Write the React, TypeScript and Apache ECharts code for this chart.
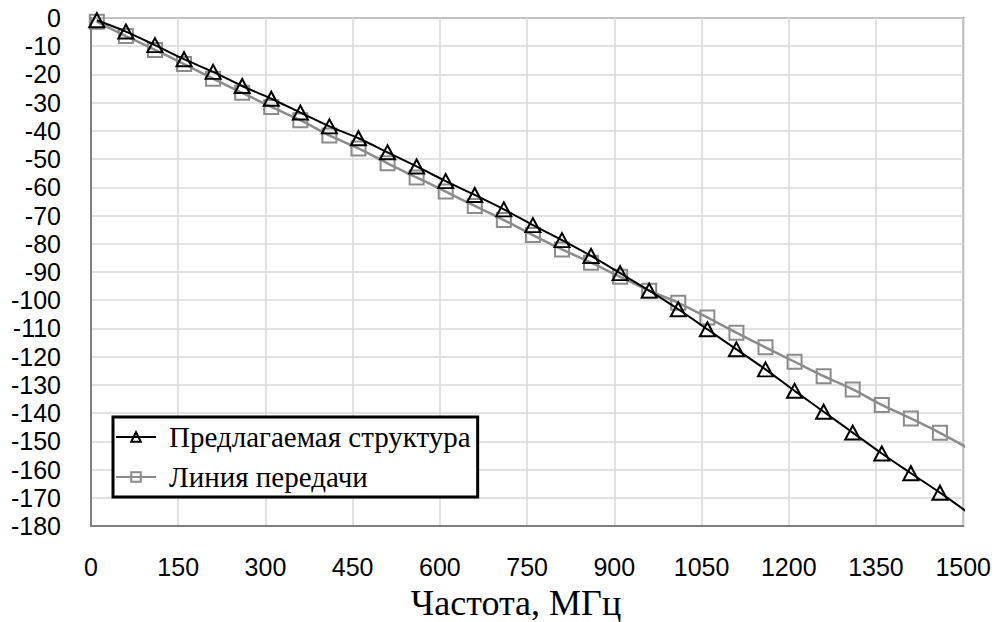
import React, { useEffect, useRef } from "react";
import * as echarts from "echarts";

const freqs = [10, 60, 110, 160, 210, 260, 310, 360, 410, 460, 510, 560, 610, 660, 710, 760, 810, 860, 910, 960, 1010, 1060, 1110, 1160, 1210, 1260, 1310, 1360, 1410, 1460, 1510];

const proposed = [-0.8, -4.8, -9.6, -14.6, -19.1, -24.1, -28.6, -33.5, -38.4, -42.6, -47.6, -52.6, -57.8, -62.7, -67.8, -73.4, -78.7, -84.3, -90.4, -96.6, -103.2, -110.3, -117.4, -124.5, -132.1, -139.5, -146.9, -154.3, -161.3, -168.2, -175.5];

const tline = [-1.3, -6.4, -11.3, -16.3, -21.5, -26.5, -31.5, -36.2, -41.6, -46.2, -51.5, -56.5, -61.5, -66.6, -71.6, -76.9, -82.0, -86.7, -91.7, -96.6, -100.9, -106.1, -111.5, -116.7, -121.8, -126.9, -131.6, -137.1, -141.9, -147.0, -152.6];

const seriesNames = ["Предлагаемая структура", "Линия передачи"];
const xTitle = "Частота, МГц";

const SANS = "'Liberation Sans', Arial, sans-serif";
const SERIF = "'Liberation Serif', 'Times New Roman', serif";

export default function App() {
  const ref = useRef<HTMLDivElement>(null);
  useEffect(() => {
    if (!ref.current) return;
    const chart = echarts.init(ref.current, null, { renderer: "svg" });
    chart.setOption({
      animation: false,
      backgroundColor: "#ffffff",
      grid: {
        left: 91,
        right: 30,
        top: 18,
        bottom: 96,
        show: true,
        borderColor: "#7f7f7f",
        borderWidth: 2,
      },
      xAxis: {
        type: "value",
        min: 0,
        max: 1500,
        interval: 150,
        axisLine: { show: true, onZero: false, lineStyle: { color: "#7f7f7f", width: 2 } },
        axisTick: { show: false },
        splitLine: { show: true, lineStyle: { color: "#d9d9d9", width: 1.5 } },
        axisLabel: {
          color: "#000",
          fontFamily: SANS,
          fontSize: 25,
          margin: 28,
          formatter: (v: number) => String(v),
        },
      },
      yAxis: {
        type: "value",
        min: -180,
        max: 0,
        interval: 10,
        axisLine: { show: true, lineStyle: { color: "#7f7f7f", width: 2 } },
        axisTick: { show: false },
        splitLine: { show: true, lineStyle: { color: "#d9d9d9", width: 1.5 } },
        axisLabel: {
          color: "#000",
          fontFamily: SANS,
          fontSize: 25,
          margin: 30,
          formatter: (v: number) => String(v),
        },
      },
      legend: {
        orient: "vertical",
        left: 113,
        top: 417,
        backgroundColor: "#fff",
        borderColor: "#000",
        borderWidth: 3,
        borderRadius: 0,
        padding: [5, 7, 5, 2],
        itemWidth: 40,
        itemHeight: 12,
        itemGap: 10,
        textStyle: { fontFamily: SERIF, fontSize: 29, lineHeight: 30, color: "#000", padding: [0, 0, 0, 8] },
        data: seriesNames,
      },
      graphic: [
        {
          type: "text",
          x: 516,
          y: 603,
          style: {
            text: xTitle,
            fontFamily: SERIF,
            fontSize: 36,
            fill: "#000",
            textAlign: "center",
            textVerticalAlign: "middle",
          },
        },
      ],
      series: [
        {
          name: seriesNames[1],
          type: "line",
          data: freqs.map((f, i) => [f, tline[i]]),
          smooth: 0.3,
          symbol: "rect",
          symbolSize: 14,
          lineStyle: { color: "#8c8c8c", width: 2.5 },
          itemStyle: { color: "rgba(255,255,255,0)", borderColor: "#8c8c8c", borderWidth: 2 },
          z: 2,
        },
        {
          name: seriesNames[0],
          type: "line",
          data: freqs.map((f, i) => [f, proposed[i]]),
          smooth: 0.3,
          symbol: "triangle",
          symbolSize: [15, 14],
          lineStyle: { color: "#000", width: 2 },
          itemStyle: { color: "rgba(255,255,255,0)", borderColor: "#000", borderWidth: 2 },
          z: 3,
        },
      ],
    });
    return () => chart.dispose();
  }, []);
  return (
    <div
      ref={ref}
      style={{ position: "absolute", left: 0, top: 0, width: 994, height: 622 }}
    />
  );
}
